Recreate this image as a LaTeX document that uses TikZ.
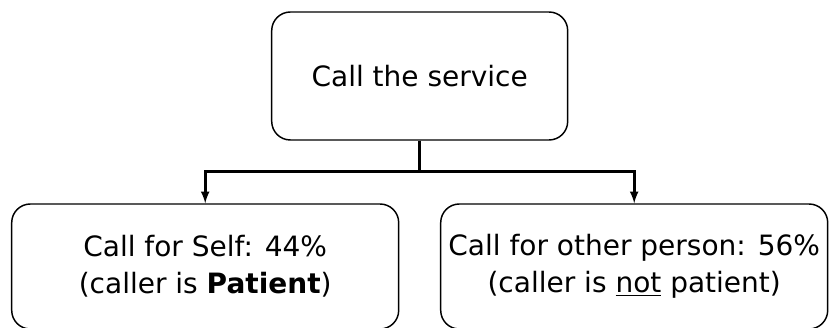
\documentclass[tikz,border=0pt]{standalone}
\usepackage{fontspec}
\setmainfont{DejaVu Sans}
\usetikzlibrary{trees}

\begin{document}
\begin{tikzpicture}[%
		  x=0.75pt, y=0.75pt,
		  level distance=142.875pt, sibling distance=321.75pt,
		  every node/.style={draw, line width=1.1pt, rounded corners=14pt, align=center,
		    font=\fontsize{21}{27.75}\selectfont},
		  callbox/.style={minimum width=290.25pt, minimum height=93.75pt},
		  edge from parent/.style={draw, line width=2pt, -latex},
		  edge from parent path={(\tikzparentnode.south) -- ++(0,-31) -| (\tikzchildnode.north)}]
		  \useasboundingbox (0,0) rectangle (829,328);
		  \node[minimum width=222pt, minimum height=96pt] (service) at (419.7,252) {Call the service}
		    child { node[callbox] (self) {Call for Self: 44\%\\(caller is \textbf{Patient})}}
		    child { node[callbox] (other) {Call for other person: 56\%\\(caller is \underline{not} patient)}};
		    \end{tikzpicture}
\end{document}
